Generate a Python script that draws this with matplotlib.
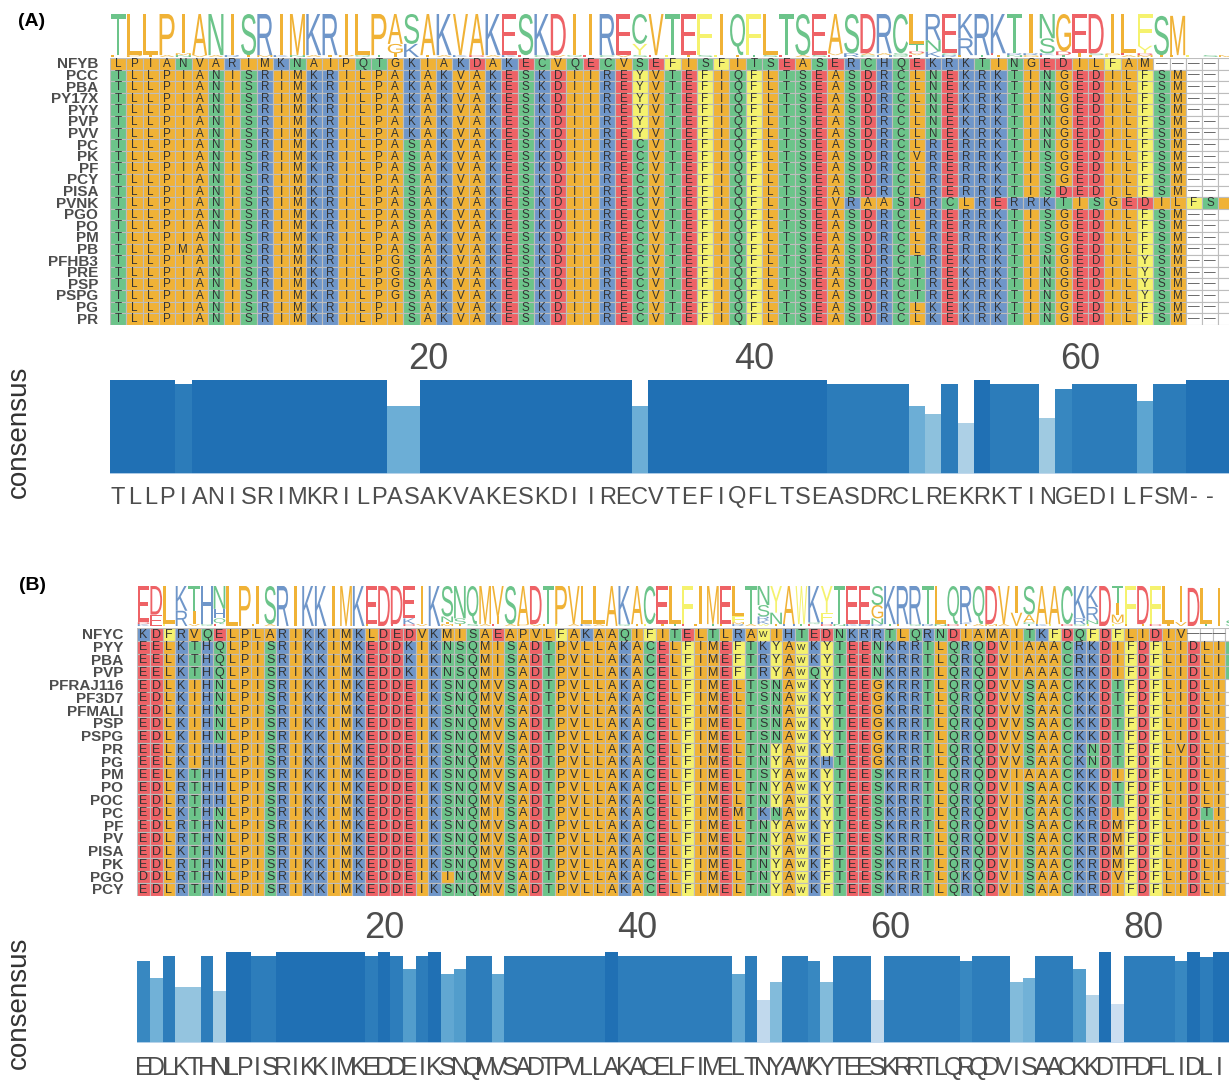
import matplotlib
matplotlib.use("Agg")
import numpy as np
import matplotlib.pyplot as plt
from matplotlib import font_manager
from matplotlib.patches import Rectangle, PathPatch
from matplotlib.collections import PatchCollection
from matplotlib.textpath import TextPath
from matplotlib.font_manager import FontProperties
from matplotlib.transforms import Affine2D, blended_transform_factory
from collections import Counter

plt.rcParams["font.family"] = ["Liberation Sans", "DejaVu Sans"]

# ---------------- alignment data ----------------
names_a = ["NFYB", "PCC", "PBA", "PY17X", "PYY", "PVP", "PVV", "PC", "PK", "PF",
           "PCY", "PISA", "PVNK", "PGO", "PO", "PM", "PB", "PFHB3", "PRE", "PSP",
           "PSPG", "PG", "PR"]
seqs_a = [
    "LPIANVARIMKNAIPQTGKIAKDAKECVQECVSEFISFITSEASERCHQEKRKTINGEDILFAM",
    "TLLPIANISRIMKRILPAKAKVAKESKDIIREYVTEFIQFLTSEASDRCLNEKRKTINGEDILFSM",
    "TLLPIANISRIMKRILPAKAKVAKESKDIIREYVTEFIQFLTSEASDRCLNEKRKTINGEDILFSM",
    "TLLPIANISRIMKRILPAKAKVAKESKDIIREYVTEFIQFLTSEASDRCLNEKRKTINGEDILFSM",
    "TLLPIANISRIMKRILPAKAKVAKESKDIIREYVTEFIQFLTSEASDRCLNEKRKTINGEDILFSM",
    "TLLPIANISRIMKRILPAKAKVAKESKDIIREYVTEFIQFLTSEASDRCLNEKRKTINGEDILFSM",
    "TLLPIANISRIMKRILPAKAKVAKESKDIIREYVTEFIQFLTSEASDRCLNEKRKTINGEDILFSM",
    "TLLPIANISRIMKRILPASAKVAKESKDIIRECVTEFIQFLTSEASDRCLRERRKTINGEDILFSM",
    "TLLPIANISRIMKRILPASAKVAKESKDIIRECVTEFIQFLTSEASDRCVRERRKTISGEDILFSM",
    "TLLPIANISRIMKRILPASAKVAKESKDIIRECVTEFIQFLTSEASDRCLRERRKTISGEDILFSM",
    "TLLPIANISRIMKRILPASAKVAKESKDIIRECVTEFIQFLTSEASDRCLRERRKTISGEDILFSM",
    "TLLPIANISRIMKRILPASAKVAKESKDIIRECVTEFIQFLTSEASDRCLRERRKTISDEDILFSM",
    "TLLPIANISRIMKRILPASAKVAKESKDIIRECVTEFIQFLTSEVRAASDRCLRERRKTISGEDILFSM",
    "TLLPIANISRIMKRILPASAKVAKESKDIIRECVTEFIQFLTSEASDRCLRERRKTISGEDILFSM",
    "TLLPIANISRIMKRILPASAKVAKESKDIIRECVTEFIQFLTSEASDRCLRERRKTISGEDILFSM",
    "TLLPIANISRIMKRILPASAKVAKESKDIIRECVTEFIQFLTSEASDRCLRERRKTISGEDILFSM",
    "TLLPMANISRIMKRILPASAKVAKESKDIIRECVTEFIQFLTSEASDRCLRERRKTISGEDILFSM",
    "TLLPIANISRIMKRILPGSAKVAKESKDIIRECVTEFIQFLTSEASDRCTREKRKTINGEDILYSM",
    "TLLPIANISRIMKRILPGSAKVAKESKDIIRECVTEFIQFLTSEASDRCTREKRKTINGEDILYSM",
    "TLLPIANISRIMKRILPGSAKVAKESKDIIRECVTEFIQFLTSEASDRCTREKRKTINGEDILYSM",
    "TLLPIANISRIMKRILPGSAKVAKESKDIIRECVTEFIQFLTSEASDRCTREKRKTINGEDILYSM",
    "TLLPIANISRIMKRILPISAKVAKESKDIIRECVTEFIQFLTSEASDRCLKEKRKTINGEDILFSM",
    "TLLPIANISRIMKRILPISAKVAKESKDIIRECVTEFIQFLTSEASDRCLKEKRKTINGEDILFSM",
]
ticks_a = [20, 40, 60]

names_b = ["NFYC", "PYY", "PBA", "PVP", "PFRAJ116", "PF3D7", "PFMALI", "PSP",
           "PSPG", "PR", "PG", "PM", "PO", "POC", "PC", "PF", "PV", "PISA",
           "PK", "PGO", "PCY"]
seqs_b = [
    "KDFRVQELPLARIKKIMKLDEDVKMISAEAPVLFAKAAQIFITELTLRAWIHTEDNKRRTLQRNDIAMAITKFDQFDFLIDIV",
    "EELKTHQLPISRIKKIMKEDDKIKNSQMISADTPVLLAKACELFIMEFTKYAWKYTEENKRRTLQRQDVIAAACRKDIFDFLIDLIS",
    "EELKTHQLPISRIKKIMKEDDKIKNSQMISADTPVLLAKACELFIMEFTRYAWKYTEENKRRTLQRQDVIAAACRKDIFDFLIDLIS",
    "EELKTHQLPISRIKKIMKEDDKIKNSQMISADTPVLLAKACELFIMEFTRYAWQYTEENKRRTLQRQDVIAAACRKDIFDFLIDLIS",
    "EDLKIHNLPISRIKKIMKEDDEIKSNQMVSADTPVLLAKACELFIMELTSNAWKYTEEGKRRTLQRQDVVSAACKKDTFDFLIDLI",
    "EDLKIHNLPISRIKKIMKEDDEIKSNQMVSADTPVLLAKACELFIMELTSNAWKYTEEGKRRTLQRQDVVSAACKKDTFDFLIDLI",
    "EDLKIHNLPISRIKKIMKEDDEIKSNQMVSADTPVLLAKACELFIMELTSNAWKYTEEGKRRTLQRQDVVSAACKKDTFDFLIDLI",
    "EDLKIHNLPISRIKKIMKEDDEIKSNQMVSADTPVLLAKACELFIMELTSNAWKYTEEGKRRTLQRQDVVSAACKKDTFDFLIDLI",
    "EDLKIHNLPISRIKKIMKEDDEIKSNQMVSADTPVLLAKACELFIMELTSNAWKYTEEGKRRTLQRQDVVSAACKKDTFDFLIDLI",
    "EELKIHHLPISRIKKIMKEDDEIKSNQMVSADTPVLLAKACELFIMELTNYAWKYTEEGKRRTLQRQDVVSAACKNDTFDFLVDLI",
    "EELKIHHLPISRIKKIMKEDDEIKSNQMVSADTPVLLAKACELFIMELTNYAWKHTEEGKRRTLQRQDVVSAACKNDTFDFLIDLI",
    "EELKTHHLPISRIKKIMKEDDEIKSNQMVSADTPVLLAKACELFIMELTSYAWKYTEESKRRTLQRQDVIAAACKKDIFDFLIDLI",
    "EDLRTHHLPISRIKKIMKEDDEIKSNQMVSADTPVLLAKACELFIMELTNYAWKYTEESKRRTLQRQDVISAACKKDTFDFLIDLI",
    "EDLRTHHLPISRIKKIMKEDDEIKSNQMVSADTPVLLAKACELFIMELTNYAWKYTEESKRRTLQRQDVISAACKKDTFDFLIDLI",
    "EDLKTHNLPISRIKKIMKEDDEIKSNQMISADTPVLLAKACELFIMEMTKNAWKYTEESKRRTLQRQDVICAACKRDIFDFLIDTI",
    "EDLRTHNLPISRIKKIMKEDDEIKSNQMVSADTPVLLAKACELFIMELTNYAWKYTEESKRRTLQRQDVISAACKRDMFDFLIDLI",
    "EDLRTHNLPISRIKKIMKEDDEIKSNQMVSADTPVLLAKACELFIMELTNYAWKFTEESKRRTLQRQDVISAACKRDMFDFLIDLI",
    "EDLKTHNLPISRIKKIMKEDDEIKSNQMVSADTPVLLAKACELFIMELTNYAWKFTEESKRRTLQRQDVISAACKRDMFDFLIDLI",
    "EDLRTHNLPISRIKKIMKEDDEIKSNQMVSADTPVLLAKACELFIMELTNYAWKFTEESKRRTLQRQDVISAACKRDMFDFLIDLI",
    "DDLRTHNLPISRIKKIMKEDDEIKINQMVSADTPVLLAKACELFIMELTNYAWKFTEESKRRTLQKQDVISAACKRDVFDFLIDLI",
    "EDLRTHNLPISRIKKIMKEDDEIKSNQMVSADTPVLLAKACELFIMELTNYAWKFTEESKRRTLQRQDVISAACKRDIFDFLIDLI",
]
ticks_b = [20, 40, 60, 80]

# residue colour classes
ORANGE, GREEN, BLUE, RED, YELLOW = "#F0B236", "#6CC48A", "#6F96C9", "#EE6266", "#F5F26E"
RES_COLORS = {}
for aa in "AVLIMPG":
    RES_COLORS[aa] = ORANGE
for aa in "STNQC":
    RES_COLORS[aa] = GREEN
for aa in "KRH":
    RES_COLORS[aa] = BLUE
for aa in "DE":
    RES_COLORS[aa] = RED
for aa in "FYW":
    RES_COLORS[aa] = YELLOW


def pick_family(name, fallback):
    try:
        font_manager.findfont(FontProperties(family=name), fallback_to_default=False)
        return name
    except Exception:
        return fallback


NARROW = pick_family("Liberation Sans Narrow", "Liberation Sans")
LOGO_FONT = FontProperties(family="Liberation Sans")

W, H, DPI = 1229, 1081, 100
fig = plt.figure(figsize=(W / DPI, H / DPI), dpi=DPI)


def px_axes(left, top, width, height):
    return fig.add_axes([left / W, 1 - (top + height) / H, width / W, height / H])


def pad(seqs, n):
    return [s[:n].ljust(n, "-") for s in seqs]


def column_summary(rows, ncol):
    """Consensus symbol per column and the share of the top residue among non-gap rows."""
    cons, frac = [], []
    for j in range(ncol):
        col = [r[j] for r in rows]
        cons.append(Counter(col).most_common(1)[0][0])
        res = [c for c in col if c != "-"]
        frac.append(Counter(res).most_common(1)[0][1] / len(res) if res else 0.0)
    return cons, np.array(frac)


def glyph(ch, x0, y0, w, h, color):
    tp = TextPath((0, 0), ch, size=1, prop=LOGO_FONT)
    bb = tp.get_extents()
    if ch == "I":  # keep the bar letter slim instead of a block
        x0, w = x0 + w * 0.39, w * 0.22
    tr = (Affine2D().translate(-bb.x0, -bb.y0)
          .scale(w / bb.width, h / bb.height).translate(x0, y0))
    return PathPatch(tr.transform_path(tp), facecolor=color, edgecolor="none")


def draw_logo(ax, rows, ncol):
    n = len(rows)
    for j in range(ncol):
        counts = Counter(r[j] for r in rows if r[j] != "-")
        y = 0.0
        for ch, c in sorted(counts.items(), key=lambda kv: kv[1]):
            h = c / n
            ax.add_patch(glyph(ch, j + 0.04, y, 0.92, h, RES_COLORS.get(ch, "#999999")))
            y += h
    ax.set_xlim(0, ncol)
    ax.set_ylim(0, 1)
    ax.axis("off")


def draw_grid(ax, names, rows, ncol, fs_res, fs_lab, lab_x, x_left, cw):
    rects, fcs = [], []
    for r, s in enumerate(rows):
        for j, ch in enumerate(s):
            rects.append(Rectangle((j, r), 1, 1))
            fcs.append(RES_COLORS.get(ch, "#FFFFFF"))
            # letters only for cells that sit fully inside the canvas
            if x_left + (j + 0.85) * cw > W:
                continue
            if ch == "-":
                ax.text(j + 0.5, r + 0.5, "\u2014", ha="center", va="center",
                        fontsize=fs_res, color="#555555")
            else:
                ax.text(j + 0.5, r + 0.52, ch, ha="center", va="center",
                        fontsize=fs_res * (0.72 if ch == "W" else 1.0), color="#333333")
    ax.add_collection(PatchCollection(rects, facecolor=fcs, edgecolor="#BDBDBD",
                                      linewidth=0.8))
    for r, nm in enumerate(names):
        ax.text(lab_x, r + 0.55, nm, ha="right", va="center", fontsize=fs_lab,
                fontweight="bold", color="#4D4D4D")
    ax.set_xlim(0, ncol)
    ax.set_ylim(len(rows), 0)
    ax.axis("off")


def draw_consensus(ax, cons, frac, ncol, ticks, fs_cons, text_y, tick_pad, x_left, cw):
    shade = plt.cm.Blues(np.clip(0.75 - (1 - frac) * 0.92, 0.15, 0.85))
    ax.bar(np.arange(ncol) + 0.5, frac, width=1.0, color=shade, edgecolor="none")
    ax.axhline(0, color="#C6DBEF", lw=1.2)
    ax.set_xlim(0, ncol)
    ax.set_ylim(0, 1)
    ax.set_xticks([t - 0.5 for t in ticks])
    ax.set_xticklabels([str(t) for t in ticks])
    ax.tick_params(axis="x", top=True, bottom=False, labeltop=True, labelbottom=False,
                   length=0, pad=tick_pad, labelsize=26, labelcolor="#4D4D4D")
    ax.set_yticks([])
    for sp in ax.spines.values():
        sp.set_visible(False)
    ax.patch.set_alpha(0)
    tr = blended_transform_factory(ax.transData, ax.transAxes)
    for j, ch in enumerate(cons):
        if x_left + (j + 0.8) * cw > W:
            continue
        ax.text(j + 0.5, text_y, ch, transform=tr, ha="center", va="center",
                fontsize=fs_cons, family=[NARROW, "DejaVu Sans"], color="#4D4D4D",
                clip_on=False)


# ---------------- panel A ----------------
NA, CWA, XA = 72, 16.3, 110
rows_a = pad(seqs_a, NA)
ax = px_axes(XA, 14, NA * CWA, 43)
draw_logo(ax, rows_a, NA)
ax = px_axes(XA, 58, NA * CWA, 23 * 11.6)
draw_grid(ax, names_a, rows_a, NA, 8.4, 11, -0.72, XA, CWA)
cons_a, frac_a = column_summary(rows_a[1:], NA)
ax = px_axes(XA, 380, NA * CWA, 94)
draw_consensus(ax, cons_a, frac_a, NA, ticks_a, 17, -0.25, 2.5, XA, CWA)
fig.text(32 / W, 1 - 22 / H, "(A)", fontsize=14, fontweight="bold", ha="center", va="center")
fig.text(19 / W, 1 - 432 / H, "consensus", rotation=90, fontsize=20, color="#333333",
         ha="center", va="center")

# ---------------- panel B ----------------
NB, CWB, XB = 90, 12.65, 137.3
rows_b = pad(seqs_b, NB)
ax = px_axes(XB, 586, NB * CWB, 40)
draw_logo(ax, rows_b, NB)
ax = px_axes(XB, 628, NB * CWB, 21 * 12.77)
draw_grid(ax, names_b, rows_b, NB, 9, 11, -1.1, XB, CWB)
cons_b, frac_b = column_summary(rows_b, NB)
ax = px_axes(XB, 952, NB * CWB, 91)
draw_consensus(ax, cons_b, frac_b, NB, ticks_b, 18, -0.27, 4.5, XB, CWB)
fig.text(32 / W, 1 - 586 / H, "(B)", fontsize=14, fontweight="bold", ha="center", va="center")
fig.text(19 / W, 1 - 1003 / H, "consensus", rotation=90, fontsize=20, color="#333333",
         ha="center", va="center")

fig.savefig("out.png", dpi=DPI, facecolor="white")
